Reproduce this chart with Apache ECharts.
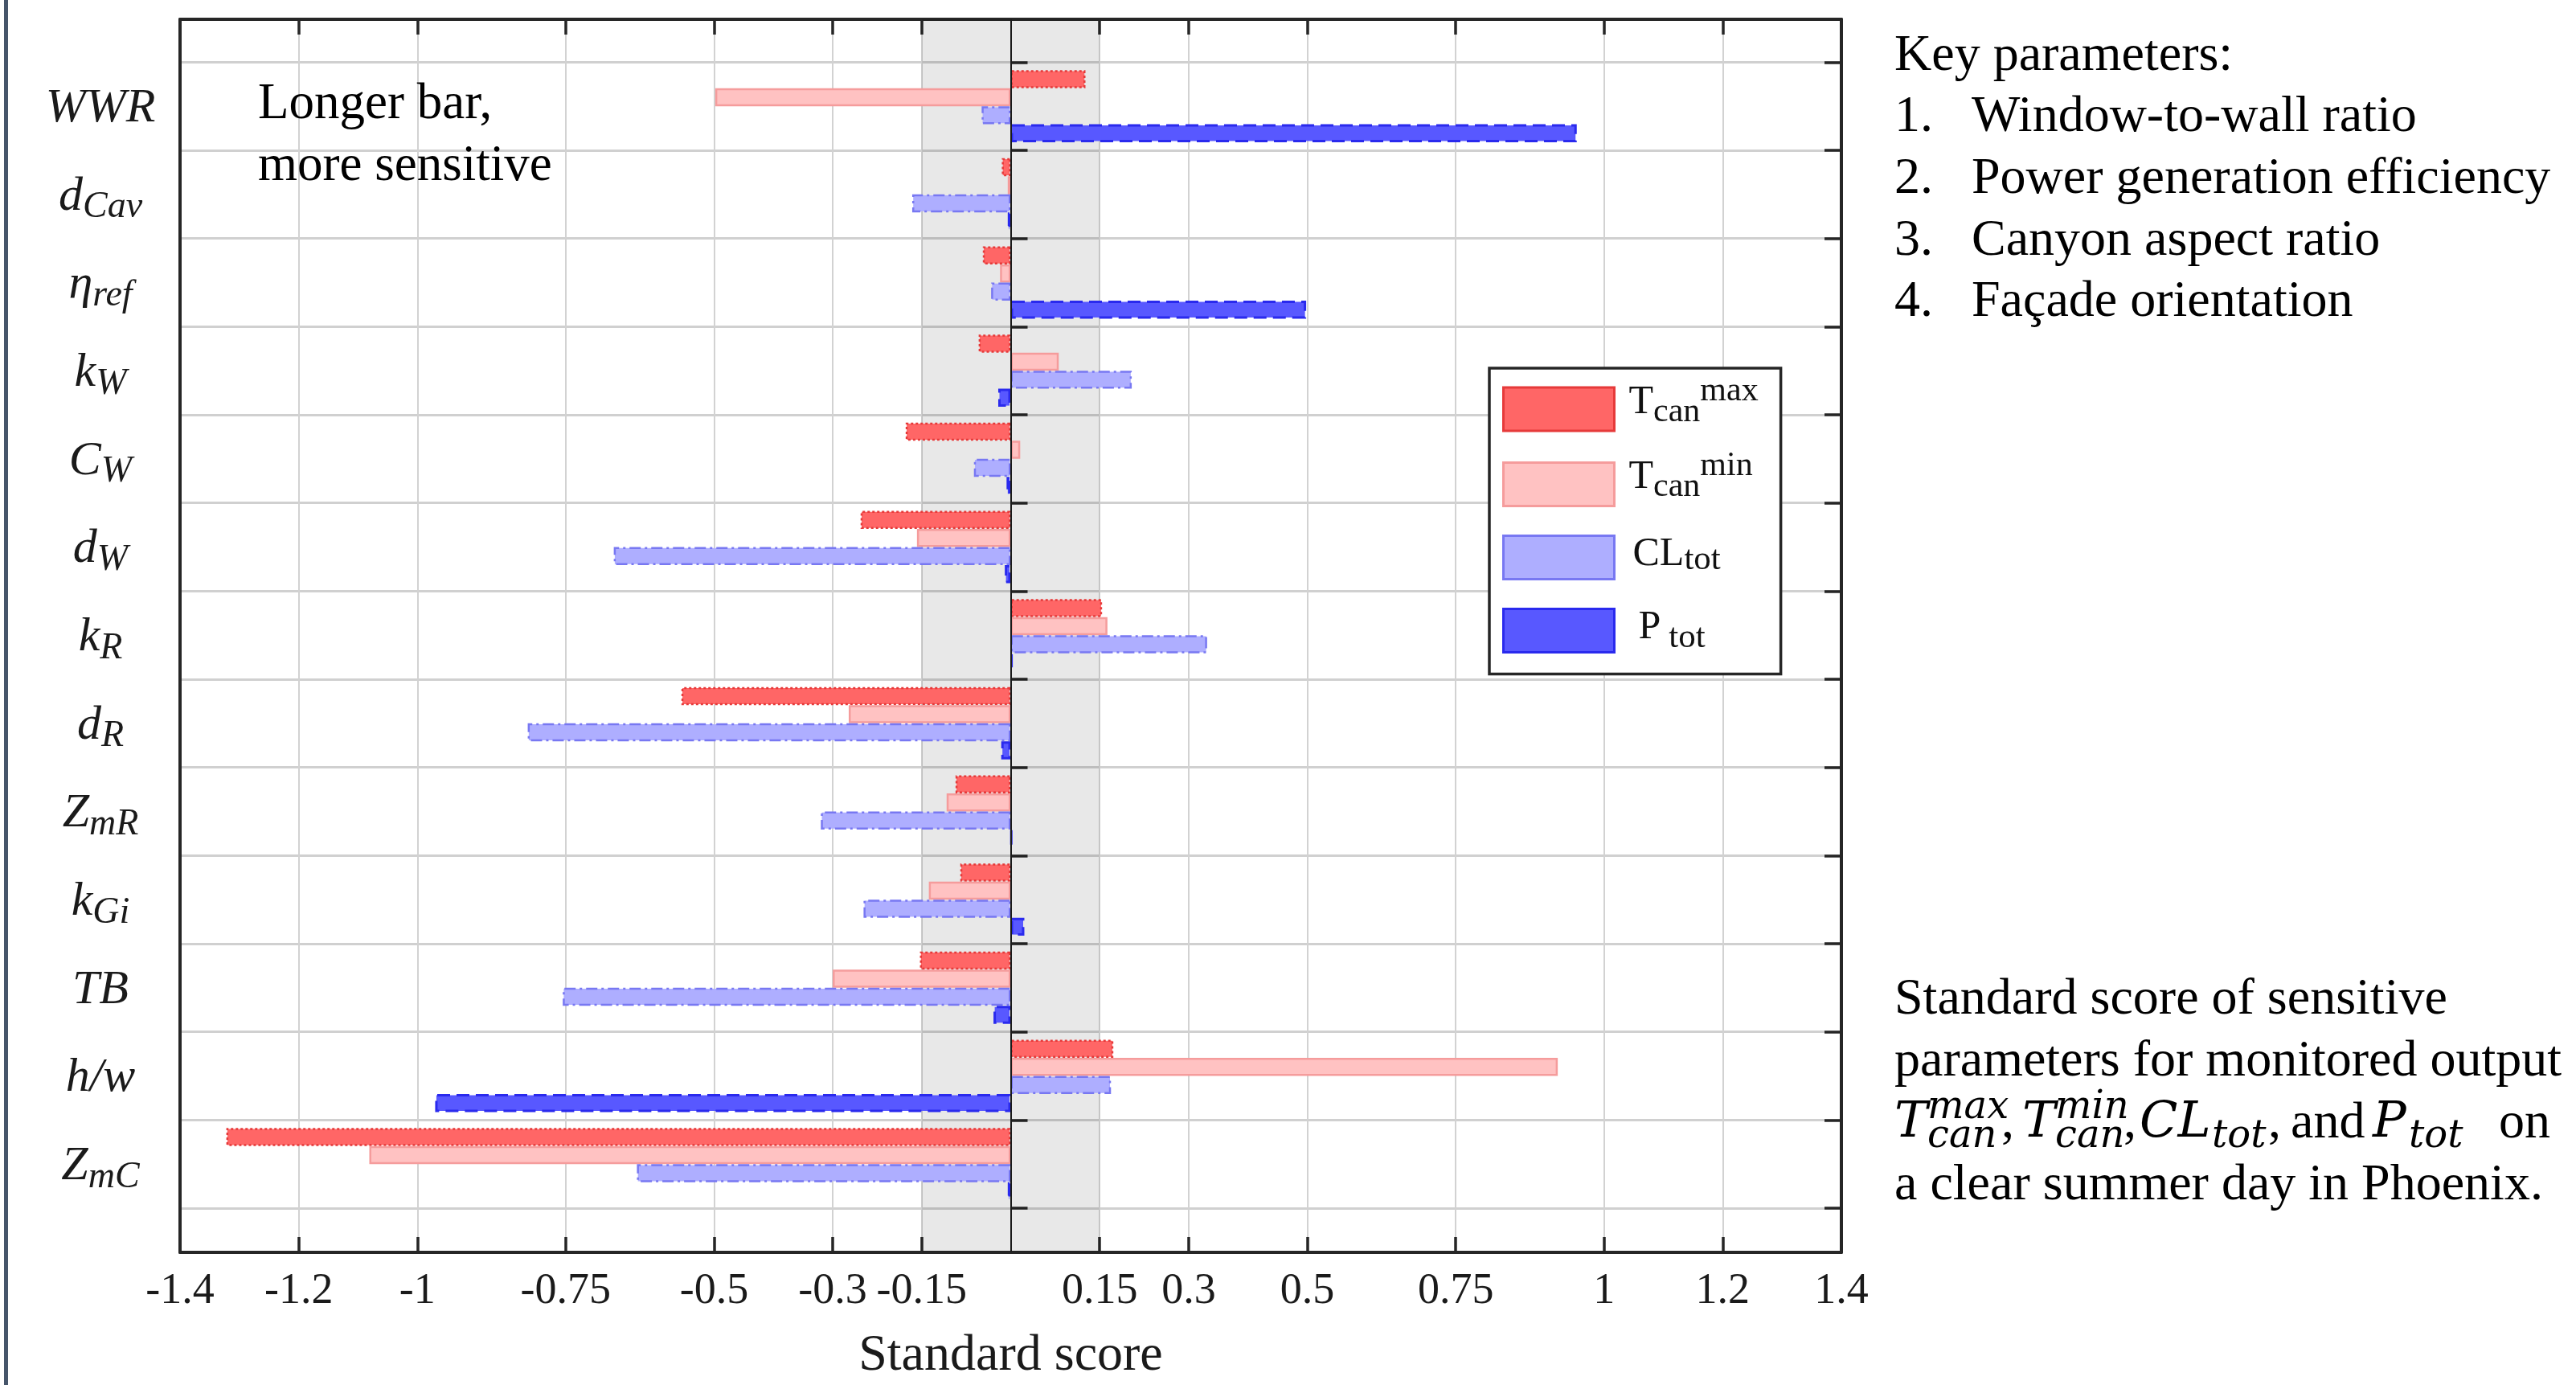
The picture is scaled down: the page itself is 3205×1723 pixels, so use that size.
<!DOCTYPE html>
<html><head><meta charset="utf-8">
<script src="https://cdn.jsdelivr.net/npm/echarts@6/dist/echarts.min.js"></script>
<style>html,body{margin:0;padding:0;background:#fff}#c{width:3205px;height:1723px}</style>
</head><body><div id="c"></div>
<script>
// ---------------- data ----------------
const categories = ['WWR','d_{Cav}','η_{ref}','k_{W}','C_{W}','d_{W}','k_{R}','d_{R}','Z_{mR}','k_{Gi}','TB','h/w','Z_{mC}'];
const tCanMax = [0.126,-0.015,-0.047,-0.054,-0.177,-0.253,0.154,-0.555,-0.093,-0.085,-0.153,0.173,-1.322];
const tCanMin = [-0.498,-0.005,-0.018,0.081,0.016,-0.158,0.163,-0.273,-0.108,-0.138,-0.300,0.922,-1.081];
const clTot   = [-0.049,-0.166,-0.033,0.204,-0.062,-0.669,0.331,-0.814,-0.320,-0.248,-0.755,0.169,-0.630];
const pTot    = [0.954,-0.005,0.498,-0.021,-0.007,-0.010,0.003,-0.016,0.002,0.023,-0.029,-0.970,-0.005];
const xTicks  = [-1.4,-1.2,-1,-0.75,-0.5,-0.3,-0.15,0.15,0.3,0.5,0.75,1,1.2,1.4];
const bandRange = [-0.15, 0.15];
const seriesNames = ['Tmax','Tmin','CL','Ptot'];
const keyParams = ['Window-to-wall ratio','Power generation efficiency','Canyon aspect ratio','Façade orientation'];

// ---------------- styles ----------------
const SERIF = 'Liberation Serif';
const barStyles = [
  {color:'#ff6666', borderColor:'#e63a3a', borderWidth:2.5, borderType:[3,3]},
  {color:'#ffc2c2', borderColor:'#f59c9c', borderWidth:2.5, borderType:'solid'},
  {color:'#aeaeff', borderColor:'#7878f2', borderWidth:2.5, borderType:[14,5,3,5]},
  {color:'#5858ff', borderColor:'#2a2aee', borderWidth:3, borderType:[16,8]}
];
const seriesData = [tCanMax, tCanMin, clTot, pTot];

function catLabel(s){
  const m = s.match(/^(.*?)_\{(.*)\}$/);
  return m ? '{m|' + m[1] + '}{s|' + m[2] + '}' : '{m|' + s + '}';
}
const legendLabels = {
  Tmax:'{g1| }{T|T}{sb|can}{sp|max}',
  Tmin:'{g1| }{T|T}{sb|can}{sp|min}',
  CL:'{g2| }{C|CL}{sb2|tot}',
  Ptot:'{g3| }{P|P}{sb3|tot}'
};
// rich token with a fixed total height H; the glyph centre sits at padTop + 1 below the line top
const tok = (fs, H, padTop, extra) => Object.assign({
  fontFamily:SERIF, fontSize:fs, height:2, lineHeight:H, verticalAlign:'top', color:'#111',
  padding:[padTop, 0, H - padTop - 2, 0]
}, extra || {});

const frameLine = {show:true, onZero:false, lineStyle:{color:'#262626', width:4}};
const tickStyle = {color:'#262626', width:3.5};

const graphics = [
  {type:'rect', shape:{x:5, y:0, width:5, height:1723}, style:{fill:'#46556a'}, z:100},
  {type:'text', x:321, y:130, style:{text:'Longer bar,', fontSize:63, fontFamily:SERIF, fill:'#000', verticalAlign:'middle'}, z:100},
  {type:'text', x:321, y:207, style:{text:'more sensitive', fontSize:63, fontFamily:SERIF, fill:'#000', verticalAlign:'middle'}, z:100},
  {type:'text', x:2357, y:70, style:{text:'Key parameters:', fontSize:64, fontFamily:SERIF, fill:'#000', verticalAlign:'middle'}, z:100}
];
keyParams.forEach((t, i) => {
  const y = 146.6 + i * 76.6;
  graphics.push({type:'text', x:2357, y, style:{text:(i+1)+'.', fontSize:64, fontFamily:SERIF, fill:'#000', verticalAlign:'middle'}, z:100});
  graphics.push({type:'text', x:2453, y, style:{text:t, fontSize:64, fontFamily:SERIF, fill:'#000', verticalAlign:'middle'}, z:100});
});
const up = (text, x, y) => ({type:'text', x, y, style:{text, fontSize:64, fontFamily:SERIF, fill:'#000', verticalAlign:'middle'}, z:100});
const it = (text, x, y, fs) => ({type:'text', x, y, style:{text, fontSize:fs, fontStyle:'italic', fontFamily:'DejaVu Serif', fill:'#000', verticalAlign:'middle'}, z:100});
graphics.push(up('Standard score of sensitive', 2357, 1244));
graphics.push(up('parameters for monitored output', 2357, 1321));
graphics.push(it('T', 2357, 1398, 62), it('max', 2398, 1379, 48), it('can', 2398, 1415, 48), up(',', 2490, 1398));
graphics.push(it('T', 2516, 1398, 62), it('min', 2557, 1379, 48), it('can', 2557, 1415, 48), up(',', 2642, 1398));
graphics.push(it('CL', 2662, 1398, 62), it('tot', 2752, 1415, 48), up(',', 2822, 1398), up('and', 2850, 1398));
graphics.push(it('P', 2952, 1398, 62), it('tot', 2997, 1415, 48), up('on', 3109, 1398));
graphics.push(up('a clear summer day in Phoenix.', 2357, 1475));

const option = {
  backgroundColor:'#fff',
  animation:false,
  grid:[
    {left:224, right:914, top:24, bottom:165, outerBoundsMode:'none'},
    {left:224, right:914, top:77.3, bottom:220, outerBoundsMode:'none'}
  ],
  xAxis:[
    {gridIndex:0, type:'value', min:-1.4, max:1.4, position:'bottom',
     axisLine:frameLine,
     axisTick:{show:true, inside:true, length:19, customValues:xTicks, lineStyle:tickStyle},
     axisLabel:{show:true, customValues:xTicks, margin:22, fontSize:54, fontFamily:SERIF, color:'#1a1a1a',
       formatter:v => String(Math.round(v*100)/100)},
     splitLine:{show:true, lineStyle:{color:'#d2d2d2', width:2}},
     name:'Standard score', nameLocation:'middle', nameGap:97,
     nameTextStyle:{fontSize:64, fontFamily:SERIF, color:'#1a1a1a'}},
    {gridIndex:0, type:'value', min:-1.4, max:1.4, position:'top',
     axisLine:frameLine,
     axisTick:{show:true, inside:true, length:19, customValues:xTicks, lineStyle:tickStyle},
     axisLabel:{show:false}, splitLine:{show:false}},
    {gridIndex:1, type:'value', min:-1.4, max:1.4, show:false}
  ],
  yAxis:[
    {gridIndex:0, type:'value', min:0, max:1, position:'left', axisLine:frameLine,
     axisTick:{show:false}, axisLabel:{show:false}, splitLine:{show:false}},
    {gridIndex:0, type:'value', min:0, max:1, position:'right', axisLine:frameLine,
     axisTick:{show:false}, axisLabel:{show:false}, splitLine:{show:false}},
    {gridIndex:1, type:'category', data:categories, inverse:true, position:'left',
     axisLine:{show:false},
     axisTick:{show:true, inside:true, length:21, interval:0, lineStyle:tickStyle},
     axisLabel:{interval:0, margin:99, align:'center', formatter:catLabel,
       rich:{
         m:tok(60, 60, 32, {fontStyle:'italic', color:'#1a1a1a'}),
         s:tok(46, 60, 45.5, {fontStyle:'italic', color:'#1a1a1a'})
       }},
     splitLine:{show:true, interval:0, lineStyle:{color:'#d0d0d0', width:3}}},
    {gridIndex:1, type:'category', data:categories, inverse:true, position:'right',
     axisLine:{show:false},
     axisTick:{show:true, inside:true, length:21, interval:0, lineStyle:tickStyle},
     axisLabel:{show:false}, splitLine:{show:false}}
  ],
  legend:{
    data:seriesNames, orient:'vertical', left:1853, top:458,
    itemWidth:138, itemHeight:54, itemGap:13, icon:'rect',
    padding:[7.5,28,17,16], backgroundColor:'#fff', borderColor:'#262626', borderWidth:3.5,
    selectedMode:false, itemStyle:{borderWidth:3},
    formatter:name => legendLabels[name],
    textStyle:{color:'#111', fontFamily:SERIF, rich:{
      g1:tok(10, 74, 0, {width:13}),
      g2:tok(10, 74, 0, {width:18}),
      g3:tok(10, 74, 0, {width:25}),
      T:tok(50, 74, 27.8),
      sb:tok(42, 74, 39.8),
      sp:tok(42, 74, 13.5),
      C:tok(50, 74, 32.8),
      sb2:tok(43, 74, 39),
      P:tok(50, 74, 32.8),
      sb3:tok(43, 74, 45.3, {padding:[45.3, 0, 26.7, 10]})
    }}
  },
  graphic:graphics,
  series: seriesNames.map((n, i) => ({
    type:'bar', name:n, xAxisIndex:2, yAxisIndex:2, data:seriesData[i],
    barGap:'0%', barCategoryGap:'18%', itemStyle:barStyles[i], z:2, silent:true
  })).concat([{
    type:'line', xAxisIndex:0, yAxisIndex:0, data:[], z:5, silent:true,
    markArea:{silent:true, itemStyle:{color:'rgba(0,0,0,0.09)'},
      data:[[{xAxis:bandRange[0]},{xAxis:bandRange[1]}]]},
    markLine:{silent:true, symbol:['none','none'], label:{show:false},
      lineStyle:{color:'#1a1a1a', width:2, type:'solid'}, data:[{xAxis:0}]}
  }])
};
const chart = echarts.init(document.getElementById('c'));
chart.setOption(option);
</script></body></html>
